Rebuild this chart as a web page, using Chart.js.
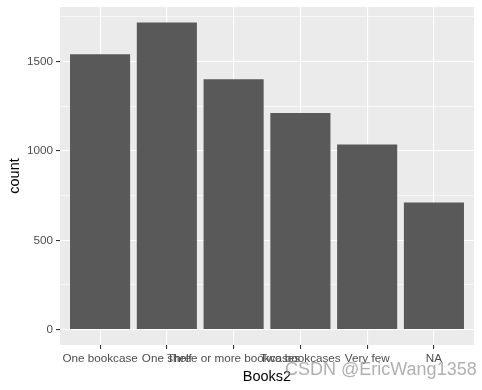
<!DOCTYPE html>
<html lang="en">
<head>
  <meta charset="UTF-8">
  <title>Books2 count</title>
  <script src="https://cdn.jsdelivr.net/npm/chart.js"></script>
  <style>
    body {
      margin: 0;
      padding: 0;
      background: #ffffff;
    }
    .wrap {
      position: relative;
      width: 482px;
      height: 390px;
    }
    .mark {
      position: absolute;
      left: 285px;
      top: 359px;
      font-family: "Liberation Sans", Arial, sans-serif;
      font-size: 18px;
      color: rgba(150, 150, 150, 0.75);
      white-space: nowrap;
    }
  </style>
</head>
<body>
  <div class="wrap">
    <canvas id="barChart" width="482" height="390"></canvas>
    <div class="mark">CSDN @EricWang1358</div>
  </div>

  <script>
    // categories and counts
    const categories = ['One bookcase', 'One shelf', 'Three or more bookcases', 'Two bookcases', 'Very few', 'NA'];
    const counts = [1541, 1719, 1402, 1213, 1036, 711];
    const yMajor = [0, 500, 1000, 1500];
    const yMinor = [250, 750, 1250, 1750];

    // ggplot style panel background
    const panelBg = {
      id: 'panelBg',
      beforeDraw(chart) {
        const a = chart.chartArea;
        const ctx = chart.ctx;
        ctx.save();
        ctx.fillStyle = '#EBEBEB';
        ctx.fillRect(a.left, a.top, a.right - a.left, a.bottom - a.top);
        ctx.restore();
      }
    };

    const font = { family: '"Liberation Sans", Arial, sans-serif' };

    const barChart = new Chart(document.getElementById('barChart'), {
      type: 'bar',
      data: {
        datasets: [{
          label: 'count',
          data: counts.map((c, i) => ({ x: i + 1, y: c })),
          backgroundColor: '#595959',
          borderWidth: 0,
          categoryPercentage: 0.9,
          barPercentage: 1.0
        }]
      },
      options: {
        responsive: false,
        animation: false,
        layout: { padding: { top: 0, right: 8, left: 0, bottom: 0 } },
        plugins: {
          legend: { display: false },
          tooltip: { enabled: false }
        },
        scales: {
          x: {
            type: 'linear',
            offset: false,
            min: 0.4,
            max: categories.length + 0.6,
            afterBuildTicks: (scale) => {
              scale.ticks = categories.map((_, i) => ({ value: i + 1 }));
            },
            afterFit: (scale) => { scale.height = 45; },
            border: { display: false },
            grid: {
              offset: false,
              color: '#FFFFFF',
              lineWidth: 1.1,
              drawTicks: true,
              tickLength: 4,
              tickColor: '#333333',
              tickWidth: 1.1
            },
            ticks: {
              autoSkip: false,
              maxRotation: 0,
              minRotation: 0,
              padding: 3,
              color: '#4D4D4D',
              font: { ...font, size: 11.7 },
              callback: (v) => categories[v - 1] || ''
            },
            title: {
              display: true,
              text: 'Books2',
              color: '#000000',
              font: { ...font, size: 14.5 },
              padding: { top: 0, bottom: 4 }
            }
          },
          y: {
            min: -86,
            max: 1806,
            afterBuildTicks: (scale) => {
              scale.ticks = yMajor.concat(yMinor).sort((a, b) => a - b).map(v => ({ value: v }));
            },
            afterFit: (scale) => { scale.width = 60; },
            border: { display: false },
            grid: {
              color: '#FFFFFF',
              lineWidth: (ctx) => yMajor.includes(ctx.tick && ctx.tick.value) ? 1.1 : 0.55,
              drawTicks: true,
              tickLength: 4,
              tickWidth: 1.1,
              tickColor: (ctx) => yMajor.includes(ctx.tick && ctx.tick.value) ? '#333333' : 'rgba(0,0,0,0)'
            },
            ticks: {
              padding: 3,
              color: '#4D4D4D',
              font: { ...font, size: 11.7, lineHeight: 0.68 },
              callback: (v) => yMajor.includes(v) ? String(v) : ''
            },
            title: {
              display: true,
              text: 'count',
              color: '#000000',
              font: { ...font, size: 14.5 },
              padding: { top: 6, bottom: 0 }
            }
          }
        }
      },
      plugins: [panelBg]
    });
  </script>
</body>
</html>
